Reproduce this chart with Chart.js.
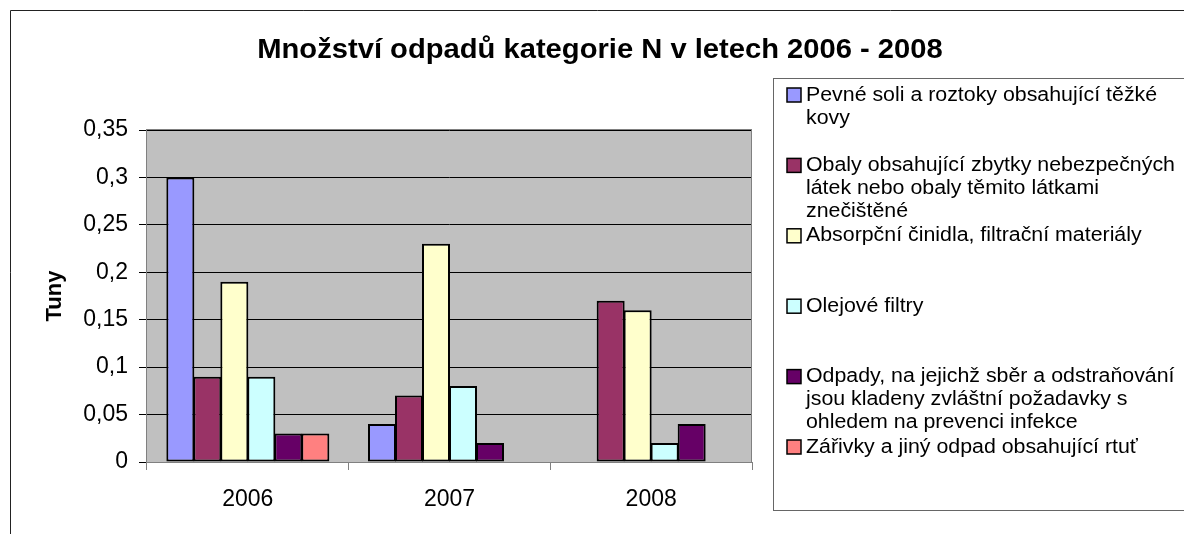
<!DOCTYPE html>
<html>
<head>
<meta charset="utf-8">
<script src="https://cdn.jsdelivr.net/npm/chart.js@4/dist/chart.umd.min.js"></script>
<style>
html, body { margin: 0; padding: 0; background: #fff; }
#obal { width: 1184px; height: 534px; position: relative; }
</style>
</head>
<body>
<div id="obal"><canvas id="graf" width="1184" height="534"></canvas></div>
<script>
// data
const roky = ['2006', '2007', '2008'];
const nazvyRad = [
    'Pevné soli a roztoky obsahující těžké kovy',
    'Obaly obsahující zbytky nebezpečných látek nebo obaly těmito látkami znečištěné',
    'Absorpční činidla, filtrační materiály',
    'Olejové filtry',
    'Odpady, na jejichž sběr a odstraňování jsou kladeny zvláštní požadavky s ohledem na prevenci infekce',
    'Zářivky a jiný odpad obsahující rtuť'
];
const pevneSoli = [0.30, 0.04, null];
const obaly = [0.09, 0.07, 0.17];
const absorpcni = [0.19, 0.23, 0.16];
const olejoveFiltry = [0.09, 0.08, 0.02];
const infekcni = [0.03, 0.02, 0.04];
const zarivky = [0.03, null, null];
const yTicky = [0, 0.05, 0.1, 0.15, 0.2, 0.25, 0.3, 0.35];

const titulek = 'Množství odpadů kategorie N v letech 2006 - 2008';
const osaY = 'Tuny';
const barvy = ['#9999FF', '#993366', '#FFFFCC', '#CCFFFF', '#660066', '#FF8080'];
const PISMO = '"Liberation Sans", Arial, sans-serif';

const rady = [pevneSoli, obaly, absorpcni, olejoveFiltry, infekcni, zarivky];

function zalomit(ctx, text, maxW) {
    const slova = text.split(' ');
    let radky = [], akt = '';
    slova.forEach(s => {
        const zkus = akt ? akt + ' ' + s : s;
        if (ctx.measureText(zkus).width > maxW && akt) { radky.push(akt); akt = s; }
        else akt = zkus;
    });
    if (akt) radky.push(akt);
    return radky;
}

const pozadiPlochy = {
    id: 'pozadiPlochy',
    beforeDraw(chart) {
        const { ctx, chartArea: a } = chart;
        ctx.save();
        ctx.fillStyle = '#fff';
        ctx.fillRect(0, 0, chart.width, chart.height);
        ctx.fillStyle = '#C0C0C0';
        ctx.fillRect(a.left, a.top, a.right - a.left, a.bottom - a.top);
        ctx.restore();
    },
    beforeDatasetsDraw(chart) {
        const { ctx, chartArea: a } = chart;
        ctx.save();
        ctx.strokeStyle = '#808080';
        ctx.lineWidth = 1;
        ctx.strokeRect(Math.round(a.left) - 0.5, Math.round(a.top) - 0.5, a.right - a.left, a.bottom - a.top + 1);
        ctx.restore();
    }
};

const popisky = {
    id: 'popisky',
    afterDraw(chart) {
        const ctx = chart.ctx;
        ctx.save();
        // vnější rámeček grafu
        ctx.strokeStyle = '#222';
        ctx.lineWidth = 1;
        ctx.beginPath();
        ctx.moveTo(10.5, 534); ctx.lineTo(10.5, 10.5); ctx.lineTo(1184, 10.5);
        ctx.stroke();

        // titulek (písmo v originálu je o něco širší)
        ctx.save();
        ctx.translate(600, 58);
        ctx.scale(1.08, 1);
        ctx.fillStyle = '#000';
        ctx.font = 'bold 27px ' + PISMO;
        ctx.textAlign = 'center';
        ctx.textBaseline = 'alphabetic';
        ctx.fillText(titulek, 0, 0);
        ctx.restore();

        // název osy Y
        ctx.save();
        ctx.translate(61, 296);
        ctx.rotate(-Math.PI / 2);
        ctx.fillStyle = '#000';
        ctx.font = 'bold 22px ' + PISMO;
        ctx.textAlign = 'center';
        ctx.textBaseline = 'alphabetic';
        ctx.fillText(osaY, 0, 0);
        ctx.restore();

        // legenda
        ctx.strokeStyle = '#666';
        ctx.lineWidth = 1;
        ctx.strokeRect(773.5, 78.5, 430, 432);
        const sx = 1.067;
        ctx.font = '20px ' + PISMO;
        ctx.textAlign = 'left';
        ctx.textBaseline = 'middle';
        nazvyRad.forEach((n, i) => {
            const y = 95 + i * 70.4;
            ctx.fillStyle = barvy[i];
            ctx.fillRect(787, y - 7, 14, 14);
            ctx.strokeStyle = '#000';
            ctx.lineWidth = 1.5;
            ctx.strokeRect(787, y - 7, 14, 14);
            ctx.fillStyle = '#000';
            zalomit(ctx, n, 372 / sx).forEach((r, j) => {
                ctx.save();
                ctx.translate(806, y + j * 23);
                ctx.scale(sx, 1);
                ctx.fillText(r, 0, 0);
                ctx.restore();
            });
        });
        ctx.restore();
    }
};

new Chart(document.getElementById('graf'), {
    type: 'bar',
    data: {
        labels: roky,
        datasets: rady.map((d, i) => ({
            label: nazvyRad[i],
            data: d,
            backgroundColor: barvy[i],
            borderColor: '#000',
            borderWidth: 2,
            borderSkipped: false,
            barPercentage: 1.037,
            categoryPercentage: 0.8033
        }))
    },
    options: {
        responsive: false,
        animation: false,
        devicePixelRatio: 1,
        layout: { padding: { top: 130, left: 0, right: 432, bottom: 0 } },
        plugins: { legend: { display: false }, title: { display: false }, tooltip: { enabled: false } },
        scales: {
            x: {
                offset: true,
                grid: { offset: true, drawOnChartArea: false, drawTicks: true, tickLength: 8, color: '#808080' },
                border: { display: false },
                ticks: { color: '#000', font: { family: PISMO, size: 23 }, padding: 16, maxRotation: 0 },
                afterFit: s => { s.height = 72; }
            },
            y: {
                min: 0, max: 0.35,
                afterBuildTicks: s => { s.ticks = yTicky.map(v => ({ value: v })); },
                grid: { color: '#000', drawTicks: true, tickLength: 8 },
                border: { display: false },
                ticks: {
                    color: '#000', font: { family: PISMO, size: 23 }, padding: 11,
                    callback: v => String(v).replace('.', ',')
                },
                afterFit: s => { s.width = 147; }
            }
        }
    },
    plugins: [pozadiPlochy, popisky]
});
</script>
</body>
</html>
